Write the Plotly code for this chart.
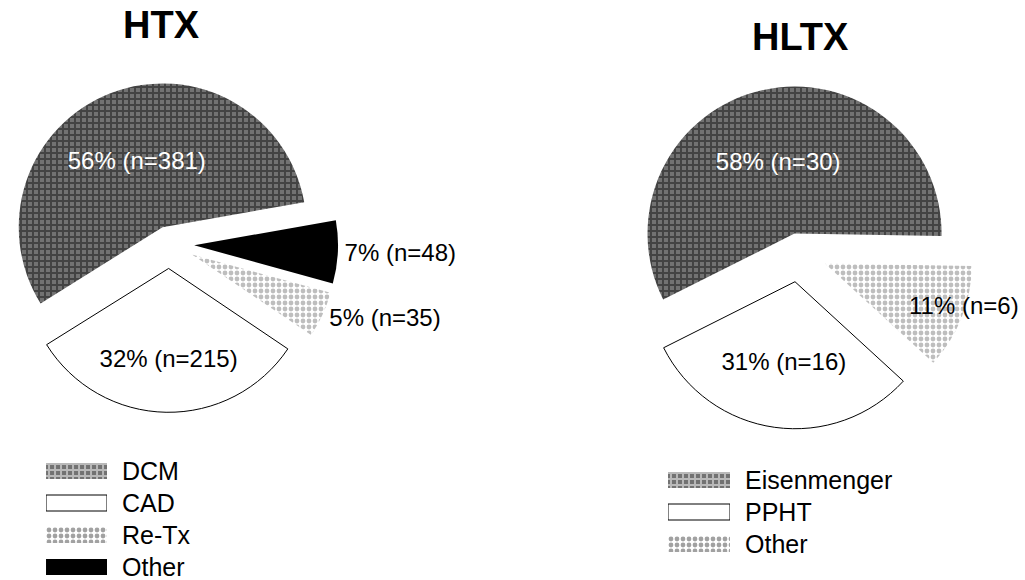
import plotly.graph_objects as go

# Indications for heart transplantation (HTX)
htx_labels = ["DCM", "CAD", "Re-Tx", "Other"]
htx_counts = [381, 215, 35, 48]
htx_pct = ["56%", "32%", "5%", "7%"]

# Indications for heart-lung transplantation (HLTX)
hltx_labels = ["Eisenmenger", "PPHT", "Other"]
hltx_counts = [30, 16, 6]
hltx_pct = ["58%", "31%", "11%"]

FONT = "Liberation Sans, Arial, sans-serif"

# Fill styles shared by slices and legend swatches
HATCH = dict(bg="#727272", fg="#141414", shape="+", size=6, solidity=0.55, line=0)
OPEN = dict(bg="white", fg="white", shape="", size=6, solidity=0.3, line=1)
DOTS = dict(bg="white", fg="#7e7e7e", shape=".", size=6, solidity=0.5, line=0)
SOLID = dict(bg="black", fg="black", shape="", size=6, solidity=0.3, line=0)

htx_styles = [HATCH, OPEN, DOTS, SOLID]
hltx_styles = [HATCH, OPEN, DOTS]


def slice_label(pct, n):
    return f"{pct} (n={n})"


def marker_for(styles):
    return dict(
        colors=[s["bg"] for s in styles],
        line=dict(color="black", width=[s["line"] for s in styles]),
        pattern=dict(
            shape=[s["shape"] for s in styles],
            fgcolor=[s["fg"] for s in styles],
            bgcolor=[s["bg"] for s in styles],
            size=[s["size"] for s in styles],
            solidity=[s["solidity"] for s in styles],
            fillmode="overlay",
        ),
    )


def pie(labels, counts, pct, styles, pulls, start_deg, textpos, dom_x, dom_y):
    # Plotly places the first slice clockwise from `rotation`; with a
    # counterclockwise sweep the first slice therefore ends at 90 - rotation
    # (math angle).  Put its counterclockwise start at `start_deg`.
    first_span = 360.0 * counts[0] / sum(counts)
    return go.Pie(
        labels=labels,
        values=counts,
        text=[slice_label(p, n) for p, n in zip(pct, counts)],
        texttemplate="%{text}",
        textposition=textpos,
        insidetextorientation="horizontal",
        textfont=dict(family=FONT, size=24,
                      color=["white" if s is HATCH else "black" for s in styles]),
        sort=False,
        direction="counterclockwise",
        rotation=90 - start_deg - first_span,
        pull=pulls,
        marker=marker_for(styles),
        domain=dict(x=dom_x, y=dom_y),
        showlegend=False,
        hoverinfo="skip",
    )


def swatches(labels, styles, xa, ya):
    m = marker_for(styles)
    return go.Bar(
        orientation="h",
        y=labels,
        x=[1] * len(labels),
        base=0,
        width=0.5,
        marker=dict(color=m["colors"], line=m["line"], pattern=m["pattern"]),
        xaxis=xa,
        yaxis=ya,
        showlegend=False,
        hoverinfo="skip",
    )


fig = go.Figure()

fig.add_trace(pie(htx_labels, htx_counts, htx_pct, htx_styles,
                  pulls=[0.125, 0.17, 0.175, 0.175], start_deg=10,
                  textpos=["inside", "inside", "outside", "outside"],
                  dom_x=[0.0, 0.3298], dom_y=[0.2879, 0.8707]))
# the small "Other" slice of HLTX carries its label as an annotation that
# straddles the slice edge
fig.add_trace(pie(hltx_labels, hltx_counts, hltx_pct, hltx_styles,
                  pulls=[0.136, 0.197, 0.19], start_deg=-1,
                  textpos=["inside", "inside", "none"],
                  dom_x=[0.6078, 0.9512], dom_y=[0.2603, 0.8672]))

fig.add_trace(swatches(htx_labels, htx_styles, "x", "y"))
fig.add_trace(swatches(hltx_labels, hltx_styles, "x2", "y2"))

hidden_x = dict(range=[0, 1], visible=False, fixedrange=True)
legend_y = dict(type="category", side="right", showgrid=False, zeroline=False,
                showline=False, ticks="", ticklabelstandoff=14, automargin=False,
                tickfont=dict(family=FONT, size=25, color="black"), fixedrange=True)

fig.update_layout(
    width=1025,
    height=580,
    margin=dict(l=0, r=0, t=0, b=0, autoexpand=False),
    paper_bgcolor="white",
    plot_bgcolor="white",
    font=dict(family=FONT, color="black"),
    xaxis=dict(domain=[0.0449, 0.1044], **hidden_x),
    yaxis=dict(domain=[0, 0.2155], range=[3.406, -0.5], anchor="x",
               categoryorder="array", categoryarray=htx_labels, **legend_y),
    xaxis2=dict(domain=[0.6517, 0.7122], anchor="y2", **hidden_x),
    yaxis2=dict(domain=[0, 0.2], range=[3.125, -0.5], anchor="x2",
                categoryorder="array", categoryarray=hltx_labels, **legend_y),
    annotations=[
        dict(text="<b>HTX</b>", x=161 / 1025, y=1 - 25 / 580, xref="paper", yref="paper",
             xanchor="center", yanchor="middle", showarrow=False,
             font=dict(family=FONT, size=38, color="black")),
        dict(text="<b>HLTX</b>", x=800 / 1025, y=1 - 37 / 580, xref="paper", yref="paper",
             xanchor="center", yanchor="middle", showarrow=False,
             font=dict(family=FONT, size=38, color="black")),
        dict(text=slice_label(hltx_pct[2], hltx_counts[2]),
             x=1021 / 1025, y=1 - 305 / 580, xref="paper", yref="paper",
             xanchor="right", yanchor="middle", showarrow=False,
             font=dict(family=FONT, size=24, color="black")),
    ],
)

fig.write_html("out.html")
